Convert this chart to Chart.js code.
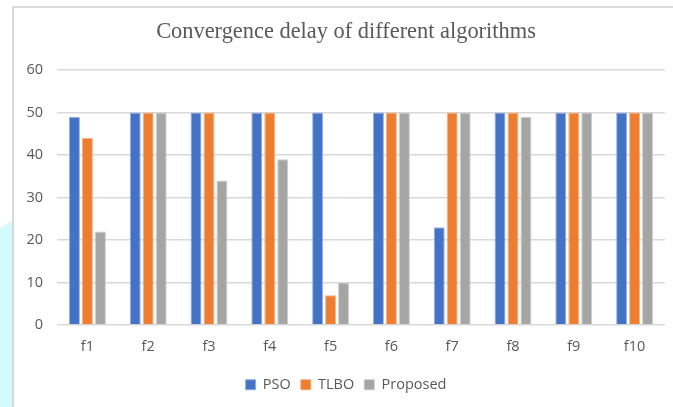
<!DOCTYPE html>
<html>
<head>
<meta charset="utf-8">
<script src="https://cdn.jsdelivr.net/npm/chart.js@4"></script>
<style>
  html, body { margin: 0; padding: 0; background: #ffffff; }
  #wrap { position: relative; width: 673px; height: 407px; overflow: hidden; }
  #cyan { position: absolute; left: 0; top: 0; width: 12px; height: 407px; background: #d4fbfb;
          clip-path: polygon(0 228px, 12px 221px, 12px 407px, 0 407px); }
  #frame { position: absolute; left: 12px; top: 6px; width: 700px; height: 420px;
           border-top: 2px solid #dadada; border-left: 2px solid #ddd6d9; box-sizing: border-box; }
  canvas { position: absolute; left: 0; top: 0; }
</style>
</head>
<body>
<div id="wrap">
  <div id="cyan"></div>
  <div id="frame"></div>
  <canvas id="grafico" width="673" height="407"></canvas>
</div>
<script>
const categorias = ['f1', 'f2', 'f3', 'f4', 'f5', 'f6', 'f7', 'f8', 'f9', 'f10'];
const valoresPSO = [49, 50, 50, 50, 50, 50, 23, 50, 50, 50];
const valoresTLBO = [44, 50, 50, 50, 7, 50, 50, 50, 50, 50];
const valoresProposto = [22, 50, 34, 39, 10, 50, 50, 49, 50, 50];
const ticksY = [0, 10, 20, 30, 40, 50, 60];

const fonteEixo = { family: '"Open Sans", sans-serif', size: 14.5 };
const corTexto = '#595959';

const ctx = document.getElementById('grafico').getContext('2d');
new Chart(ctx, {
    type: 'bar',
    data: {
        labels: categorias,
        datasets: [
            { label: 'PSO', data: valoresPSO, backgroundColor: '#4472c4', borderColor: 'rgba(140,170,230,0.9)', borderWidth: 1 },
            { label: 'TLBO', data: valoresTLBO, backgroundColor: '#ed7d31', borderColor: 'rgba(245,170,120,0.9)', borderWidth: 1 },
            { label: 'Proposed', data: valoresProposto, backgroundColor: '#a5a5a5', borderColor: 'rgba(200,200,200,0.9)', borderWidth: 1 }
        ]
    },
    options: {
        responsive: false,
        animation: false,
        layout: { padding: { left: 27, right: 8, top: 8, bottom: 5 } },
        datasets: { bar: { categoryPercentage: 0.64, barPercentage: 0.85 } },
        scales: {
            x: {
                grid: { display: false, drawTicks: false },
                border: { display: false },
                ticks: { color: corTexto, font: fonteEixo, padding: 13 },
                afterFit: function(scale) { scale.height = 42.5; }
            },
            y: {
                min: 0,
                max: 60,
                afterBuildTicks: function(scale) { scale.ticks = ticksY.map(v => ({ value: v })); },
                grid: { color: '#d9d9d9', lineWidth: 1.5, drawTicks: false },
                border: { display: false },
                ticks: { color: corTexto, font: fonteEixo, padding: 14 },
                afterFit: function(scale) { scale.width = 30; }
            }
        },
        plugins: {
            title: {
                display: true,
                text: 'Convergence delay of different algorithms',
                color: corTexto,
                font: { family: '"Liberation Serif", "Times New Roman", serif', size: 22.4, weight: 'normal' },
                padding: { top: 11, bottom: 24.2 }
            },
            legend: {
                position: 'bottom',
                labels: { color: corTexto, font: fonteEixo, boxWidth: 10, boxHeight: 10, padding: 10 }
            },
            tooltip: { enabled: false }
        }
    }
});
</script>
</body>
</html>
